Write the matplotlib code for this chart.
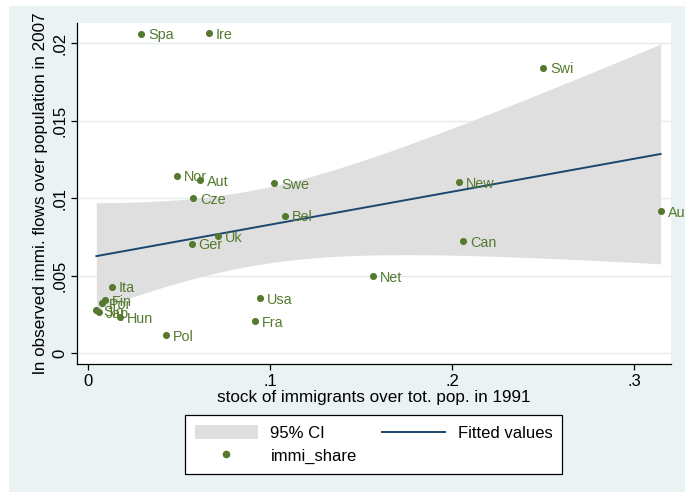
import numpy as np
import matplotlib
matplotlib.use("Agg")
from matplotlib import pyplot as plt
from matplotlib.patches import Rectangle, Patch
from matplotlib.lines import Line2D

plt.rcParams['font.family'] = ['Liberation Sans', 'DejaVu Sans']

# country codes, immigrant stock 1991 (x) and immigration flow share 2007 (y)
countries = ["Spa", "Ire", "Swi", "Nor", "Aut", "Swe", "New", "Cze", "Bel", "Aus",
             "Ger", "Uk", "Can", "Net", "Ita", "Usa", "Fra", "Pol",
             "Fin", "Por", "Slo", "Jap", "Hun"]
stock_1991 = [0.0291, 0.0662, 0.2499, 0.0487, 0.0615, 0.1023, 0.2035, 0.0578, 0.1083, 0.3145,
              0.0569, 0.0712, 0.2061, 0.1565, 0.0132, 0.0945, 0.0917, 0.0428,
              0.0095, 0.0075, 0.0046, 0.0062, 0.0178]
flows_2007 = [0.02063, 0.02065, 0.01843, 0.01146, 0.01118, 0.01097, 0.01105, 0.01000, 0.00888, 0.00916,
              0.00707, 0.00755, 0.00725, 0.00499, 0.00431, 0.00357, 0.00209, 0.00119,
              0.00344, 0.00325, 0.00280, 0.00266, 0.00234]

x = np.array(stock_1991)
y = np.array(flows_2007)

# linear fit with 95% CI of the mean (like Stata lfitci)
n = len(x)
b, a = np.polyfit(x, y, 1)
resid = y - (a + b * x)
s2 = (resid ** 2).sum() / (n - 2)
sxx = ((x - x.mean()) ** 2).sum()
t_crit = 2.0796  # t(0.975, df=21)
xg = np.linspace(x.min(), x.max(), 200)
yfit = a + b * xg
se = np.sqrt(s2 * (1.0 / n + (xg - x.mean()) ** 2 / sxx))
lo = yfit - t_crit * se
hi = yfit + t_crit * se

green = '#557A2F'
navy = '#1A476F'
bg = '#EAF2F3'

W, H = 685, 492
fig = plt.figure(figsize=(W / 100, H / 100), dpi=100, facecolor='white')
fig.patches.append(Rectangle((9 / W, 0), 1 - 9 / W, 1 - 6 / H, transform=fig.transFigure,
                             facecolor=bg, edgecolor='none', zorder=-10))

ax = fig.add_axes([77 / W, 1 - 364 / H, (671 - 77) / W, (364 - 23) / H])
ax.set_facecolor('white')

ax.fill_between(xg, lo, hi, color='#DFDFDF', lw=0, zorder=1)
ax.plot(xg, yfit, color=navy, lw=1.4, zorder=2)
ax.scatter(x, y, s=26, color=green, zorder=3, linewidths=0)
for c, xi, yi in zip(countries, x, y):
    ax.annotate(c, (xi, yi), xytext=(5, -1.2), textcoords='offset points',
                va='center', ha='left', color=green, fontsize=10.4,
                annotation_clip=False, zorder=4)

ax.set_xlim(-0.00604, 0.3202)
ax.set_ylim(-0.00069, 0.02131)
ax.set_xticks([0, 0.1, 0.2, 0.3])
ax.set_xticklabels(["0", ".1", ".2", ".3"])
ax.set_yticks([0, 0.005, 0.01, 0.015, 0.02])
ax.set_yticklabels(["0", ".005", ".01", ".015", ".02"], rotation=90, va='center')
ax.grid(axis='y', color='#E3EBED', lw=1.0, zorder=0)
ax.set_axisbelow(True)
for side in ['top', 'right']:
    ax.spines[side].set_visible(False)
for side in ['left', 'bottom']:
    ax.spines[side].set_linewidth(0.9)
ax.tick_params(direction='out', length=4, width=0.9, labelsize=12, pad=3)

ax.set_xlabel("stock of immigrants over tot. pop. in 1991", fontsize=12.3, labelpad=1)
ax.set_ylabel("ln observed immi. flows over population in 2007", fontsize=12.3, labelpad=3)

handles = [Patch(facecolor='#DFDFDF', edgecolor='none'),
           Line2D([], [], marker='o', ls='none', color=green, markersize=4.5),
           Line2D([], [], color=navy, lw=1.4)]
labels = ["95% CI", "immi_share", "Fitted values"]
leg = fig.legend(handles, labels, ncol=2, loc='center',
                 bbox_to_anchor=(373.5 / W, 1 - 444.5 / H), fontsize=12,
                 frameon=True, fancybox=False, edgecolor='black', facecolor='white',
                 framealpha=1, handlelength=3.8, handleheight=0.9, handletextpad=0.75,
                 columnspacing=1.5, labelspacing=0.4, borderpad=0.6)
leg.get_frame().set_linewidth(0.9)

fig.savefig("out.png", dpi=100, facecolor=fig.get_facecolor())
